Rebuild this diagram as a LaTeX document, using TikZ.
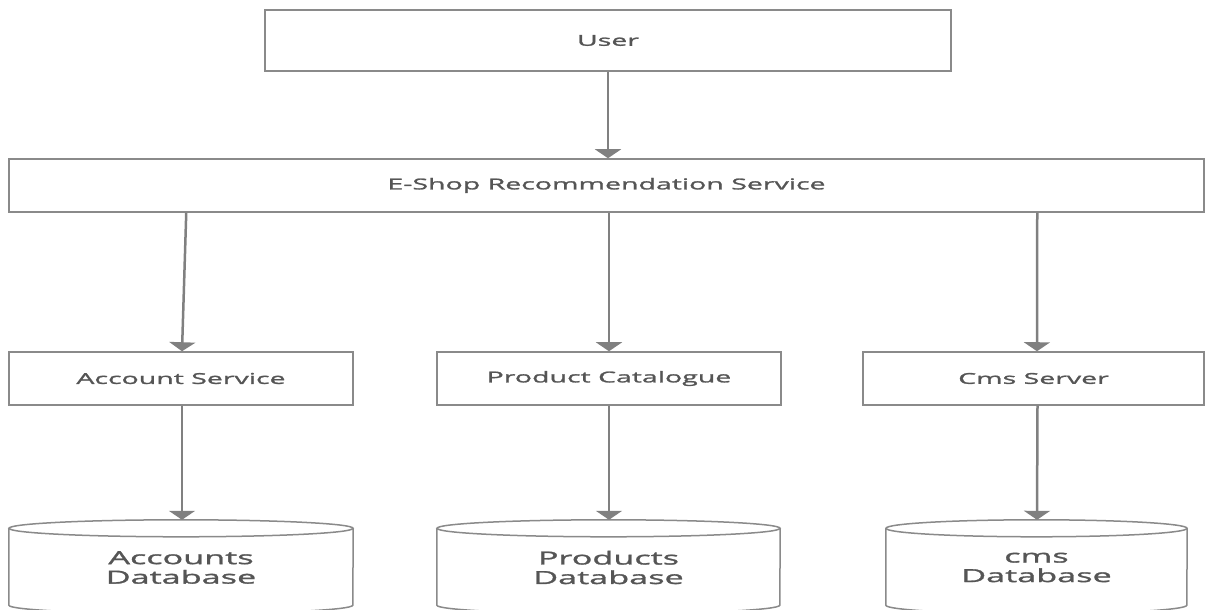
\documentclass[tikz,border=0pt]{standalone}
\usepackage{fontspec}
\setmainfont[FakeStretch=1.9, FakeBold=1.6]{Open Sans}
\usetikzlibrary{arrows.meta}
\definecolor{linegray}{HTML}{8A8A8A}
\definecolor{arrowgray}{HTML}{808080}
\definecolor{textgray}{HTML}{555555}
\tikzset{
  boxnode/.style={draw=linegray, line width=1.5pt, fill=white, rectangle, inner sep=0pt,
    text=textgray, font=\fontsize{15}{18}\selectfont},
  dbnode/.style={rectangle, inner sep=0pt, align=center, text=textgray,
    font=\fontsize{18}{19.5}\selectfont},
  shapeline/.style={draw=linegray, line width=1.5pt},
  conn/.style={draw=arrowgray, line width=2.5pt, -{Triangle[width=26pt,length=9pt]}}
}
\newcommand\dbcyl[2]{%
  \draw[shapeline] ([yshift=-8.5pt]#1.north) ellipse[x radius=#2, y radius=8.5pt];
  \draw[shapeline] ([yshift=-8.5pt]#1.north west) -- ([yshift=10pt]#1.south west)
    arc[start angle=180, end angle=360, x radius=#2, y radius=8.5pt]
    -- ([yshift=-8.5pt]#1.north east);}
\begin{document}
\begin{tikzpicture}[x=1pt,y=1pt]
\useasboundingbox (0,0) rectangle (1205,610);
\fill[white] (0,0) rectangle (1205,610);
% boxes
\node[boxnode, minimum width=686pt, minimum height=61pt] (user) at (608,569.5) {User};
\node[boxnode, minimum width=1195pt, minimum height=53pt] (eshop) at (606.5,424.5) {E-Shop Recommendation Service};
\node[boxnode, minimum width=344pt, minimum height=53pt] (acc) at (181,231.5) {Account Service};
\node[boxnode, minimum width=344pt, minimum height=53pt] (prod) at (609,231.5) {Product Catalogue};
\node[boxnode, minimum width=341pt, minimum height=53pt] (cms) at (1033.5,231.5) {Cms Server};
% databases
\node[dbnode, minimum width=344pt, minimum height=95pt] (accdb) at (181,42.5) {Accounts\\Database};
\node[dbnode, minimum width=343pt, minimum height=95pt] (proddb) at (608.5,42.5) {Products\\Database};
\node[dbnode, minimum width=301pt, minimum height=95pt] (cmsdb) at (1036.5,42.5) {cms\\Database};
\dbcyl{accdb}{172pt}
\dbcyl{proddb}{171.5pt}
\dbcyl{cmsdb}{150.5pt}
% connectors
\draw[conn] (user.south) -- (eshop.north -| user.south);
\draw[conn] ([xshift=178pt]eshop.south west) -- ([xshift=1pt]acc.north);
\draw[conn] ([xshift=2.5pt]eshop.south) -- (prod.north);
\draw[conn] ([xshift=1029pt]eshop.south west) -- ([xshift=3.5pt]cms.north);
\draw[conn] ([xshift=1pt]acc.south) -- ([xshift=1pt]accdb.north);
\draw[conn] (prod.south) -- ([xshift=0.5pt]proddb.north);
\draw[conn] ([xshift=4pt]cms.south) -- ([xshift=0.5pt]cmsdb.north);
\end{tikzpicture}
\end{document}
